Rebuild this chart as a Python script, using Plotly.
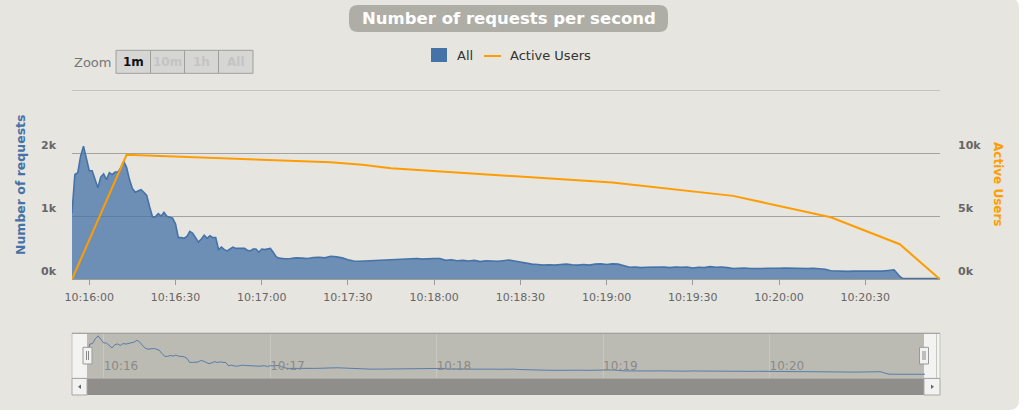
import plotly.graph_objects as go
import pandas as pd

DAY = "2024-01-01 "

# ---------------- data ----------------
req_time = [
    "10:15:54", "10:15:55", "10:15:56", "10:15:57", "10:15:58", "10:15:59",
    "10:16:00", "10:16:01", "10:16:02", "10:16:03", "10:16:04", "10:16:05", "10:16:06", "10:16:07",
    "10:16:08", "10:16:09", "10:16:10", "10:16:11", "10:16:12", "10:16:13", "10:16:14", "10:16:15",
    "10:16:16", "10:16:17", "10:16:18", "10:16:19", "10:16:20", "10:16:21", "10:16:22", "10:16:23",
    "10:16:24", "10:16:25", "10:16:26", "10:16:27", "10:16:28", "10:16:29", "10:16:30", "10:16:31",
    "10:16:32", "10:16:33", "10:16:34", "10:16:35", "10:16:36", "10:16:37", "10:16:38", "10:16:39",
    "10:16:40", "10:16:41", "10:16:42", "10:16:43", "10:16:44", "10:16:45", "10:16:46", "10:16:47",
    "10:16:48", "10:16:49", "10:16:50", "10:16:51", "10:16:52", "10:16:53", "10:16:54", "10:16:55",
    "10:16:56", "10:16:57", "10:16:58", "10:16:59", "10:17:00", "10:17:01", "10:17:02", "10:17:03",
    "10:17:04", "10:17:05", "10:17:06", "10:17:07", "10:17:08",
    "10:17:10", "10:17:12", "10:17:14", "10:17:16", "10:17:18", "10:17:20", "10:17:22", "10:17:24",
    "10:17:26", "10:17:28", "10:17:30", "10:17:32", "10:17:34", "10:17:36", "10:17:38", "10:17:40",
    "10:17:42", "10:17:44", "10:17:46", "10:17:48", "10:17:50", "10:17:52", "10:17:54", "10:17:56",
    "10:17:58",
    "10:18:00", "10:18:02", "10:18:04", "10:18:06", "10:18:08", "10:18:10", "10:18:12", "10:18:14",
    "10:18:16", "10:18:18", "10:18:20", "10:18:22", "10:18:24", "10:18:26", "10:18:28", "10:18:30",
    "10:18:32", "10:18:34", "10:18:36", "10:18:38", "10:18:40", "10:18:42", "10:18:44", "10:18:46",
    "10:18:48", "10:18:50", "10:18:52", "10:18:54", "10:18:56", "10:18:58",
    "10:19:00", "10:19:02", "10:19:04", "10:19:06", "10:19:08", "10:19:10", "10:19:12", "10:19:14",
    "10:19:16", "10:19:18", "10:19:20", "10:19:22", "10:19:24", "10:19:26", "10:19:28", "10:19:30",
    "10:19:32", "10:19:34", "10:19:36", "10:19:38", "10:19:40", "10:19:42", "10:19:44", "10:19:46",
    "10:19:48", "10:19:50", "10:19:52", "10:19:54", "10:19:56", "10:19:58",
    "10:20:00", "10:20:02", "10:20:04", "10:20:06", "10:20:08", "10:20:10", "10:20:12", "10:20:14",
    "10:20:16", "10:20:18", "10:20:20", "10:20:22", "10:20:24", "10:20:26", "10:20:28", "10:20:30",
    "10:20:32", "10:20:34", "10:20:36", "10:20:38",
    "10:20:39", "10:20:40", "10:20:41", "10:20:42", "10:20:43", "10:20:46", "10:20:50", "10:20:54",
    "10:20:56",
]

req_all = [
    1050, 1660, 1690, 1950, 2110, 1930,
    1720, 1720, 1600, 1450, 1620, 1670, 1580, 1690,
    1660, 1700, 1700, 1770, 1870, 1770, 1580, 1440,
    1380, 1400, 1420, 1380, 1330, 1150, 990, 990,
    1040, 1000, 1060, 1000, 990, 970, 880, 660,
    660, 650, 680, 760, 730, 650, 590, 640,
    700, 650, 690, 660, 660, 470, 510, 470,
    450, 480, 510, 490, 490, 500, 490, 460,
    450, 480, 480, 430, 480, 470, 480, 490,
    430, 360, 335, 330, 325,
    330, 340, 335, 330, 345, 350, 340, 365,
    355, 340, 310, 290, 285, 290, 290, 295,
    300, 310, 305, 320, 315, 320, 330, 320,
    330,
    330, 330, 300, 310, 295, 300, 290, 300,
    280, 295, 290, 285, 295, 305, 290, 270,
    255, 240, 235, 225, 230, 225, 235, 240,
    230, 225, 235, 225, 240, 245,
    235, 245, 240, 210, 190, 195, 185, 190,
    195, 190, 195, 185, 195, 190, 195, 180,
    190, 185, 200, 190, 195, 185, 170, 175,
    180, 170, 165, 170, 175, 170,
    175, 180, 175, 175, 170, 170, 175, 170,
    160, 135, 130, 130, 125, 130, 125, 130,
    130, 125, 130, 140,
    145, 150, 100, 45, 15, 12, 12, 12,
    12,
]

users_time = ["10:15:54", "10:16:13", "10:17:24", "10:17:35", "10:17:45", "10:18:22",
              "10:19:02", "10:19:44", "10:20:18", "10:20:42", "10:20:56"]
users_active = [0, 9860, 9280, 9070, 8800, 8280, 7670, 6610, 4920, 2780, 0]

left_tickvals = [0, 1000, 2000]
left_ticktext = ["0k", "1k", "2k"]
right_tickvals = [0, 5000, 10000]
right_ticktext = ["0k", "5k", "10k"]
zoom_buttons = ["1m", "10m", "1h", "All"]

TITLE = "Number of requests per second"
LEFT_TITLE = "Number of requests"
RIGHT_TITLE = "Active Users"
SERIES_ALL = "All"
SERIES_USERS = "Active Users"

# ---------------- style ----------------
FONT = "DejaVu Sans"
BG = "#E6E5E0"
BLUE = "#4572A7"
ORANGE = "#FF9D00"
GRID = "#A3A3A0"
W, H = 1024, 418
L, R, T, B = 72, 940, 90, 398


def px(x):
    return (x - L) / (R - L)


def py(y):
    return (B - y) / (B - T)


def rr(x0, y0, x1, y1, r):
    pts = [("M", x0 + r, y0), ("L", x1 - r, y0), ("Q", x1, y0), ("", x1, y0 + r),
           ("L", x1, y1 - r), ("Q", x1, y1), ("", x1 - r, y1), ("L", x0 + r, y1),
           ("Q", x0, y1), ("", x0, y1 - r), ("L", x0, y0 + r), ("Q", x0, y0), ("", x0 + r, y0)]
    s = ""
    for cmd, x, y in pts:
        s += f"{cmd}{px(x):.5f},{py(y):.5f} " if cmd else f"{px(x):.5f},{py(y):.5f} "
    return s + "Z"


def rect(x0, y0, x1, y1, fill, line=None, lw=0, layer="above"):
    return dict(type="rect", xref="paper", yref="paper", x0=px(x0), x1=px(x1), y0=py(y1), y1=py(y0),
                fillcolor=fill, line=dict(color=line or fill, width=lw), layer=layer)


def hline(x0, x1, y, color, w=1, layer="above"):
    return dict(type="line", xref="paper", yref="paper", x0=px(x0), x1=px(x1), y0=py(y), y1=py(y),
                line=dict(color=color, width=w), layer=layer)


def vline(x, y0, y1, color, w=1):
    return dict(type="line", xref="paper", yref="paper", x0=px(x), x1=px(x), y0=py(y0), y1=py(y1),
                line=dict(color=color, width=w))


def ann(text, x, y, size, color, xanchor="left", bold=False, angle=0):
    return dict(text=text, x=px(x), y=py(y), xref="paper", yref="paper", showarrow=False,
                xanchor=xanchor, yanchor="middle", textangle=angle,
                font=dict(family=FONT, size=size, color=color, weight="bold" if bold else "normal"))


t_req = pd.to_datetime([DAY + t for t in req_time])
t_users = pd.to_datetime([DAY + t for t in users_time])
start, end = t_req[0], t_req[-1]
span = (end - start).total_seconds()
pad = pd.Timedelta(seconds=span * 15 / 837)

fig = go.Figure()
fig.add_trace(go.Scatter(x=t_req, y=req_all, name=SERIES_ALL, mode="lines",
                         line=dict(color=BLUE, width=1.6), fill="tozeroy",
                         fillcolor="rgba(69,114,167,0.75)", xaxis="x", yaxis="y"))
fig.add_trace(go.Scatter(x=t_users, y=users_active, name=SERIES_USERS, mode="lines",
                         line=dict(color=ORANGE, width=2), xaxis="x", yaxis="y3"))
fig.add_trace(go.Scatter(x=t_req, y=req_all, mode="lines", showlegend=False,
                         line=dict(color="rgba(69,114,167,0.85)", width=1), xaxis="x2", yaxis="y2"))

shapes = [
    dict(type="path", xref="paper", yref="paper", path=rr(-12, -2, 1019, 410, 10),
         fillcolor=BG, line=dict(width=0), layer="below"),
    dict(type="path", xref="paper", yref="paper", path=rr(349, 5, 668, 32, 9),
         fillcolor="#AEAEA7", line=dict(width=0), layer="below"),
    dict(type="line", xref="paper", yref="y", x0=0, x1=1, y0=3000, y1=3000,
         line=dict(color=GRID, width=1), layer="below"),
    # navigator background
    rect(72, 333.3, 940, 378.3, "#F3F3F1", "#C4C4C0", 1, layer="below"),
    rect(87, 333.3, 924, 378.3, "#BBBBB4", layer="below"),
    hline(72, 940, 333.3, "#9C9C98"),
    # scrollbar
    rect(87, 378.5, 924, 395, "#8F8E8A"),
    rect(72, 378.5, 87, 395, "#F2F2F0", "#A8A8A5", 1),
    rect(924, 378.5, 940, 395, "#F2F2F0", "#A8A8A5", 1),
    dict(type="path", xref="paper", yref="paper", fillcolor="#666", line=dict(width=0),
         path=f"M{px(81)},{py(384.5)} L{px(78)},{py(386.7)} L{px(81)},{py(388.9)} Z"),
    dict(type="path", xref="paper", yref="paper", fillcolor="#666", line=dict(width=0),
         path=f"M{px(931)},{py(384.5)} L{px(934)},{py(386.7)} L{px(931)},{py(388.9)} Z"),
    # handles
    rect(83, 347.3, 92, 364, "#F2F2F2", "#999999", 1),
    vline(86.5, 351, 360, "#888"), vline(88.5, 351, 360, "#888"),
    rect(919.5, 347.3, 928.5, 364, "#F2F2F2", "#999999", 1),
    vline(923, 351, 360, "#888"), vline(925, 351, 360, "#888"),
    # legend symbols
    rect(431, 48, 447, 62, BLUE),
    hline(484, 501, 56, ORANGE, 2),
]

annotations = [
    ann(TITLE, 508.5, 18.5, 16.5, "white", "center", bold=True),
    ann(LEFT_TITLE, 20, 185, 12.5, BLUE, "center", bold=True, angle=-90),
    ann(RIGHT_TITLE, 998, 184, 12, ORANGE, "center", bold=True, angle=90),
    ann("Zoom", 72, 62, 13, "#777"),
    ann(SERIES_ALL, 455, 56, 13, "#333"),
    ann(SERIES_USERS, 508, 56, 13, "#333"),
]

btn_edges = [116, 150.5, 184.5, 218.5, 253]
for i, lab in enumerate(zoom_buttons):
    x0, x1 = btn_edges[i], btn_edges[i + 1]
    shapes.append(rect(x0, 50.3, x1, 73.3, "#D6D6D4", "#9E9E9C", 1))
    active = i == 0
    annotations.append(ann(lab, (x0 + x1) / 2, 62, 12, "#111" if active else "#C4C4C4",
                           "center", bold=True))

tickfont = dict(family=FONT, size=11, color="#666")

fig.update_layout(
    width=W, height=H, autosize=False,
    margin=dict(l=L, r=W - R, t=T, b=H - B, pad=0),
    paper_bgcolor="#FFFFFF", plot_bgcolor="rgba(0,0,0,0)",
    showlegend=False, hovermode=False,
    font=dict(family=FONT),
    xaxis=dict(domain=[0, 1], anchor="y", type="date", range=[start, end],
               tickformat="%H:%M:%S", dtick=30000, tick0=DAY + "10:16:00",
               showgrid=False, zeroline=False, showline=True, linecolor="#9A9A9A", linewidth=1,
               ticks="outside", ticklen=5, tickcolor="#9A9A9A", tickfont=tickfont,
               ticklabelstandoff=2, fixedrange=True),
    yaxis=dict(domain=[py(279.3), 1], anchor="x", range=[0, 3000],
               tickvals=left_tickvals, ticktext=left_ticktext,
               showgrid=True, gridcolor=GRID, gridwidth=1, zeroline=False, showline=False,
               ticks="", ticklabelposition="outside top", ticklabelstandoff=15,
               tickfont=dict(family=FONT, size=11, color="#666", weight="bold"), fixedrange=True),
    yaxis3=dict(overlaying="y", side="right", anchor="x", range=[0, 15000],
                tickvals=right_tickvals, ticktext=right_ticktext,
                showgrid=False, zeroline=False, showline=False, ticks="",
                ticklabelposition="outside top", ticklabelstandoff=17,
                tickfont=dict(family=FONT, size=11, color="#666", weight="bold"), fixedrange=True),
    xaxis2=dict(domain=[0, 1], anchor="y2", type="date", range=[start - pad, end + pad],
                tickformat="%H:%M", dtick=60000, tick0=DAY + "10:16:00",
                showgrid=True, gridcolor="#C8C8C2", gridwidth=1, zeroline=False, showline=False,
                ticks="", ticklabelposition="inside right",
                tickfont=dict(family=FONT, size=12, color="#8A8A86"), fixedrange=True),
    yaxis2=dict(domain=[py(378.3), py(333.3)], anchor="x2", range=[-210, 2250],
                visible=False, fixedrange=True),
    shapes=shapes,
    annotations=annotations,
)

fig.write_html("out.html", config={"displayModeBar": False, "staticPlot": True},
               post_script="document.body.style.margin='0';document.body.style.overflow='hidden';")
